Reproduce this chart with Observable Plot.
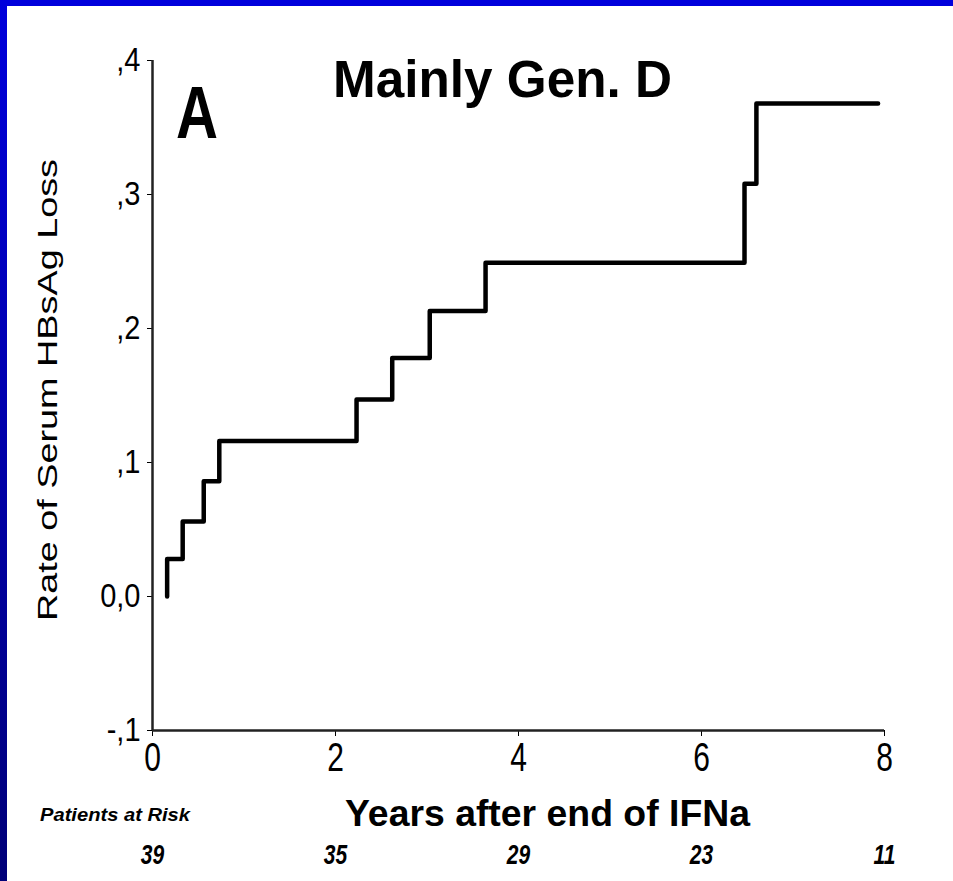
<!DOCTYPE html>
<html><head><meta charset="utf-8">
<script src="https://cdn.jsdelivr.net/npm/d3@7"></script>
<script src="https://cdn.jsdelivr.net/npm/@observablehq/plot@0.6"></script>
<style>
html,body{margin:0;padding:0;background:#fff;width:953px;height:881px;overflow:hidden;font-family:"Liberation Sans",Arial,sans-serif;}
#chart{position:absolute;left:0;top:0;}
#overlay{position:absolute;left:0;top:0;}
#topbar{position:absolute;left:0;top:0;width:953px;height:6px;background:#0000dc;}
#leftbar{position:absolute;left:0;top:0;width:7px;height:881px;background:linear-gradient(#0000dc,#000078);}
#chart g[aria-label^="y-axis"] text{font-size:29px;}
#chart g[aria-label^="x-axis"] text{font-size:30px;}
</style></head><body>
<div id="chart"></div>
<svg id="overlay" width="953" height="881" font-family="Liberation Sans, Arial, sans-serif">
  <text transform="translate(176,138) scale(1,1.22)" font-size="60" font-weight="bold" textLength="42" lengthAdjust="spacingAndGlyphs">A</text>
  <text x="333" y="97" font-size="51" font-weight="bold" textLength="339" lengthAdjust="spacingAndGlyphs">Mainly Gen. D</text>
  <text transform="translate(57,390) rotate(-90)" text-anchor="middle" font-size="27" textLength="462" lengthAdjust="spacingAndGlyphs">Rate of Serum HBsAg Loss</text>
  <text x="345" y="826" font-size="37" font-weight="bold" textLength="405" lengthAdjust="spacingAndGlyphs">Years after end of IFNa</text>
  <text x="40" y="821" font-size="18" font-weight="bold" font-style="italic" textLength="150" lengthAdjust="spacingAndGlyphs">Patients at Risk</text>
</svg>
<div id="topbar"></div><div id="leftbar"></div>
<script>
// Kaplan-Meier style cumulative rate of HBsAg loss (step points)
const stepYears = [0.16, 0.16, 0.33, 0.56, 0.73, 2.23, 2.62, 3.03, 3.64, 6.47, 6.60, 7.93];
const lossRate  = [0, 0.028, 0.056, 0.086, 0.116, 0.147, 0.178, 0.213, 0.249, 0.308, 0.368, 0.368];
const yTicks = [-0.1, 0, 0.1, 0.2, 0.3, 0.4];
const yTickLabels = ["-,1", "0,0", ",1", ",2", ",3", ",4"];
const xTicks = [0, 2, 4, 6, 8];
const riskYears = [0, 2, 4, 6, 8];
const riskCounts = ["39", "35", "29", "23", "11"];

const steps = stepYears.map((x, i) => ({x, y: lossRate[i]}));

const plot = Plot.plot({
  width: 953, height: 881,
  marginLeft: 152, marginRight: 69, marginTop: 60, marginBottom: 151,
  style: {background: "transparent", fontFamily: "Liberation Sans, Arial, sans-serif", color: "#000"},
  x: {domain: [0, 8], ticks: xTicks, tickSize: 6, tickPadding: 10, label: null},
  y: {domain: [-0.1, 0.4], ticks: yTicks,
      tickFormat: d => yTickLabels[yTicks.findIndex(t => Math.abs(t - d) < 1e-9)],
      tickSize: 5, tickPadding: 7, label: null},
  marks: [
    Plot.ruleX([0], {stroke: "#222", strokeWidth: 2.5}),
    Plot.ruleY([-0.1], {stroke: "#222", strokeWidth: 2.5}),
    Plot.line(steps, {x: "x", y: "y", curve: "step-after", stroke: "#000", strokeWidth: 4.5}),
    Plot.text(riskYears, {x: d => d, text: (d, i) => riskCounts[i], frameAnchor: "bottom", dy: 131,
      fontSize: 21, fontWeight: "bold", fontStyle: "italic"})
  ]
});
document.getElementById("chart").appendChild(plot);

// stretch glyphs vertically about their own centre, like the scanned original
function stretch(selector, s) {
  plot.querySelectorAll(selector).forEach(t => {
    const b = t.getBBox();
    const cx = b.x + b.width / 2, cy = b.y + b.height / 2;
    const prev = t.getAttribute("transform") || "";
    t.setAttribute("transform", `${prev} translate(${cx},${cy}) scale(1,${s}) translate(${-cx},${-cy})`);
  });
}
stretch('g[aria-label^="x-axis"] text', 1.35);
stretch('g[aria-label^="y-axis"] text', 1.12);
stretch('g[aria-label="text"] text', 1.3);
</script>
</body></html>
